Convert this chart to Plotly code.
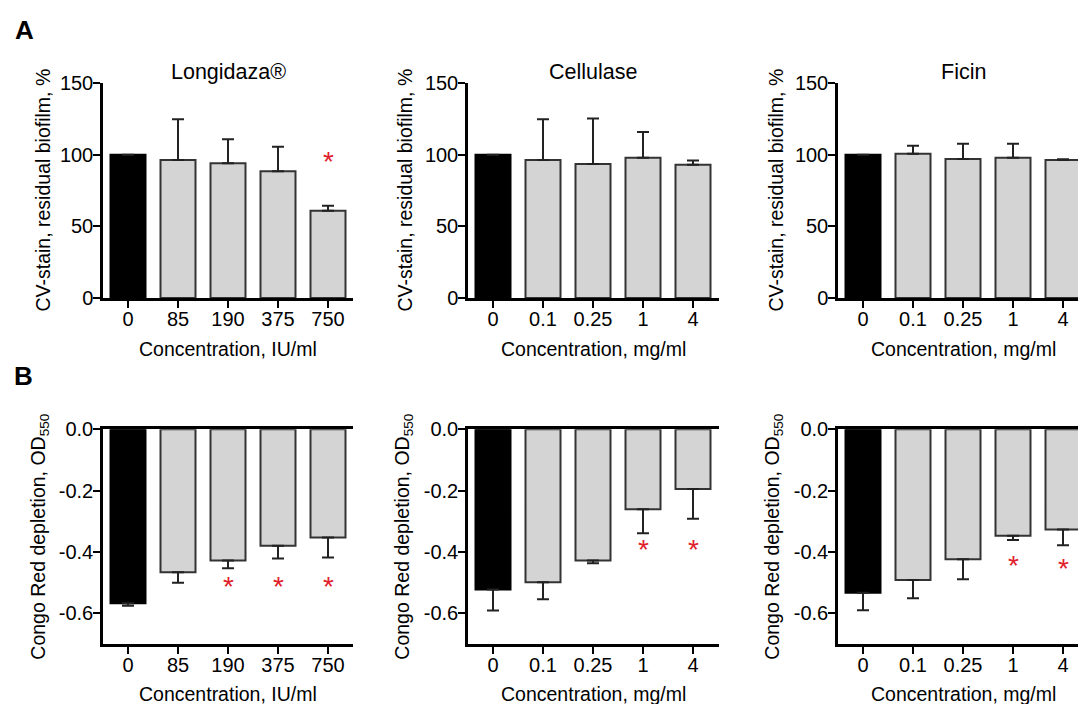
import plotly.graph_objects as go

W, H = 1078, 704

# ---------------- data ----------------
conc_longidaza = ["0", "85", "190", "375", "750"]
conc_enzyme = ["0", "0.1", "0.25", "1", "4"]

cv_longidaza = [100, 96.3, 94.0, 88.4, 60.9]
cv_longidaza_err = [0, 28.4, 16.7, 17.2, 3.5]
cv_cellulase = [100, 96.3, 93.5, 97.9, 93.0]
cv_cellulase_err = [0, 28.4, 31.8, 17.9, 3.0]
cv_ficin = [100, 100.7, 97.0, 97.9, 96.3]
cv_ficin_err = [0, 5.6, 10.7, 9.8, 0.5]

cr_longidaza = [-0.567, -0.466, -0.428, -0.380, -0.353]
cr_longidaza_err = [0.008, 0.034, 0.025, 0.041, 0.065]
cr_cellulase = [-0.522, -0.499, -0.428, -0.261, -0.195]
cr_cellulase_err = [0.069, 0.055, 0.009, 0.078, 0.097]
cr_ficin = [-0.533, -0.491, -0.424, -0.347, -0.327]
cr_ficin_err = [0.057, 0.060, 0.065, 0.014, 0.051]

# significance stars: (category, y)
stars_cv_longidaza = [("750", 96.7)]
stars_cv_cellulase = []
stars_cv_ficin = []
stars_cr_longidaza = [("190", -0.505), ("375", -0.505), ("750", -0.505)]
stars_cr_cellulase = [("1", -0.386), ("4", -0.386)]
stars_cr_ficin = [("1", -0.437), ("4", -0.446)]

titles = ["Longidaza®", "Cellulase", "Ficin"]
x_titles = ["Concentration, IU/ml", "Concentration, mg/ml", "Concentration, mg/ml"]
y_title_a = "CV-stain, residual biofilm, %"
y_title_b = "Congo Red depletion, OD<sub>550</sub>"

cv_ticks = [0, 50, 100, 150]
cr_ticks = [0.0, -0.2, -0.4, -0.6]
cr_ticktext = ["0.0", "-0.2", "-0.4", "-0.6"]

# ---------------- style ----------------
FONT = "Arial, 'Liberation Sans', sans-serif"
GRAY = "#d4d4d4"
EDGE = "#333333"
RED = "#e0202a"

def px_x(p):
    return p / W

def px_y(p):
    return 1 - p / H

x_dom_px = [(103, 353), (468, 719), (838, 1078)]
x_ranges = [[-0.5, 4.5], [-0.5, 4.52], [-0.5, 4.3]]
y_dom_a = (83, 298)
y_dom_b = (429.3, 644)

panels = [
    (conc_longidaza, cv_longidaza, cv_longidaza_err, stars_cv_longidaza, "A", 0),
    (conc_enzyme, cv_cellulase, cv_cellulase_err, stars_cv_cellulase, "A", 1),
    (conc_enzyme, cv_ficin, cv_ficin_err, stars_cv_ficin, "A", 2),
    (conc_longidaza, cr_longidaza, cr_longidaza_err, stars_cr_longidaza, "B", 0),
    (conc_enzyme, cr_cellulase, cr_cellulase_err, stars_cr_cellulase, "B", 1),
    (conc_enzyme, cr_ficin, cr_ficin_err, stars_cr_ficin, "B", 2),
]

fig = go.Figure()
annotations = []
layout = {}

ytitle_x_a = [43, 405, 776]
ytitle_x_b = [40, 404, 774]

for i, (cats, vals, errs, stars, row, col) in enumerate(panels):
    n = i + 1
    xa = "x" if n == 1 else f"x{n}"
    ya = "y" if n == 1 else f"y{n}"
    xkey = "xaxis" if n == 1 else f"xaxis{n}"
    ykey = "yaxis" if n == 1 else f"yaxis{n}"
    colors = ["black"] + [GRAY] * (len(cats) - 1)
    lcolors = ["black"] + [EDGE] * (len(cats) - 1)
    if row == "A":
        ey = dict(type="data", symmetric=False, array=errs, arrayminus=[0] * len(errs),
                  color="#222222", thickness=2, width=6)
    else:
        ey = dict(type="data", symmetric=False, array=[0] * len(errs), arrayminus=errs,
                  color="#222222", thickness=2, width=6)
    fig.add_trace(go.Bar(
        x=cats, y=vals, width=0.7,
        marker=dict(color=colors, line=dict(color=lcolors, width=2)),
        error_y=ey, xaxis=xa, yaxis=ya, showlegend=False, hoverinfo="skip",
    ))
    d0, d1 = x_dom_px[col]
    ydom = y_dom_a if row == "A" else y_dom_b
    layout[xkey] = dict(
        domain=[px_x(d0), px_x(d1)], anchor=ya, type="category",
        range=x_ranges[col], showline=True, linecolor="black", linewidth=2.5,
        mirror=(row == "B"), automargin=False,
        ticks="outside", ticklen=7, tickwidth=2, tickcolor="black",
        ticklabelstandoff=-6,
        showgrid=False, zeroline=False, fixedrange=True,
        tickfont=dict(family=FONT, size=20, color="black"),
    )
    if row == "A":
        yr = [0, 150]
        tv, tt = cv_ticks, [str(t) for t in cv_ticks]
    else:
        yr = [-0.7, 0]
        tv, tt = cr_ticks, cr_ticktext
    layout[ykey] = dict(
        domain=[px_y(ydom[1]), px_y(ydom[0])], anchor=xa, automargin=False,
        range=yr, tickvals=tv, ticktext=tt,
        showline=True, linecolor="black", linewidth=2.5,
        ticks="outside", ticklen=7, tickwidth=2, tickcolor="black",
        ticklabelstandoff=-4,
        showgrid=False, zeroline=False, fixedrange=True,
        tickfont=dict(family=FONT, size=20, color="black"),
    )
    for (c, yv) in stars:
        annotations.append(dict(
            x=cats.index(c), y=yv, xref=xa, yref=ya, text="*", showarrow=False,
            font=dict(family=FONT, size=28, color=RED), xanchor="center", yanchor="middle",
            yshift=-2,
        ))
    ty = 349 if row == "A" else 694
    annotations.append(dict(
        x=2, y=px_y(ty), xref=xa, yref="paper", text=x_titles[col], showarrow=False,
        font=dict(family=FONT, size=19.5, color="black"), xanchor="center", yanchor="middle",
    ))
    if row == "A":
        annotations.append(dict(
            x=px_x(ytitle_x_a[col]), y=px_y((ydom[0] + ydom[1]) / 2), xref="paper", yref="paper",
            text=y_title_a, textangle=-90, showarrow=False,
            font=dict(family=FONT, size=19.5, color="black"), xanchor="center", yanchor="middle",
        ))
        annotations.append(dict(
            x=2, y=px_y(72), xref=xa, yref="paper", text=titles[col], showarrow=False,
            font=dict(family=FONT, size=21.5, color="black"), xanchor="center", yanchor="middle",
        ))
    else:
        annotations.append(dict(
            x=px_x(ytitle_x_b[col]), y=px_y((ydom[0] + ydom[1]) / 2), xref="paper", yref="paper",
            text=y_title_b, textangle=-90, showarrow=False,
            font=dict(family=FONT, size=19.5, color="black"), xanchor="center", yanchor="middle",
        ))

annotations.append(dict(x=px_x(24), y=px_y(30), xref="paper", yref="paper", text="<b>A</b>",
                        showarrow=False, font=dict(family=FONT, size=26, color="black"),
                        xanchor="center", yanchor="middle"))
annotations.append(dict(x=px_x(23), y=px_y(376), xref="paper", yref="paper", text="<b>B</b>",
                        showarrow=False, font=dict(family=FONT, size=26, color="black"),
                        xanchor="center", yanchor="middle"))

fig.update_layout(
    template="none",
    width=W, height=H, margin=dict(l=0, r=0, t=0, b=0, pad=0, autoexpand=False),
    paper_bgcolor="white", plot_bgcolor="white",
    annotations=annotations, bargap=0.3, showlegend=False,
    font=dict(family=FONT, color="black"),
    **layout,
)

fig.write_html("out.html", config={"displayModeBar": False},
               post_script="document.body.style.margin='0';document.body.style.padding='0';")
